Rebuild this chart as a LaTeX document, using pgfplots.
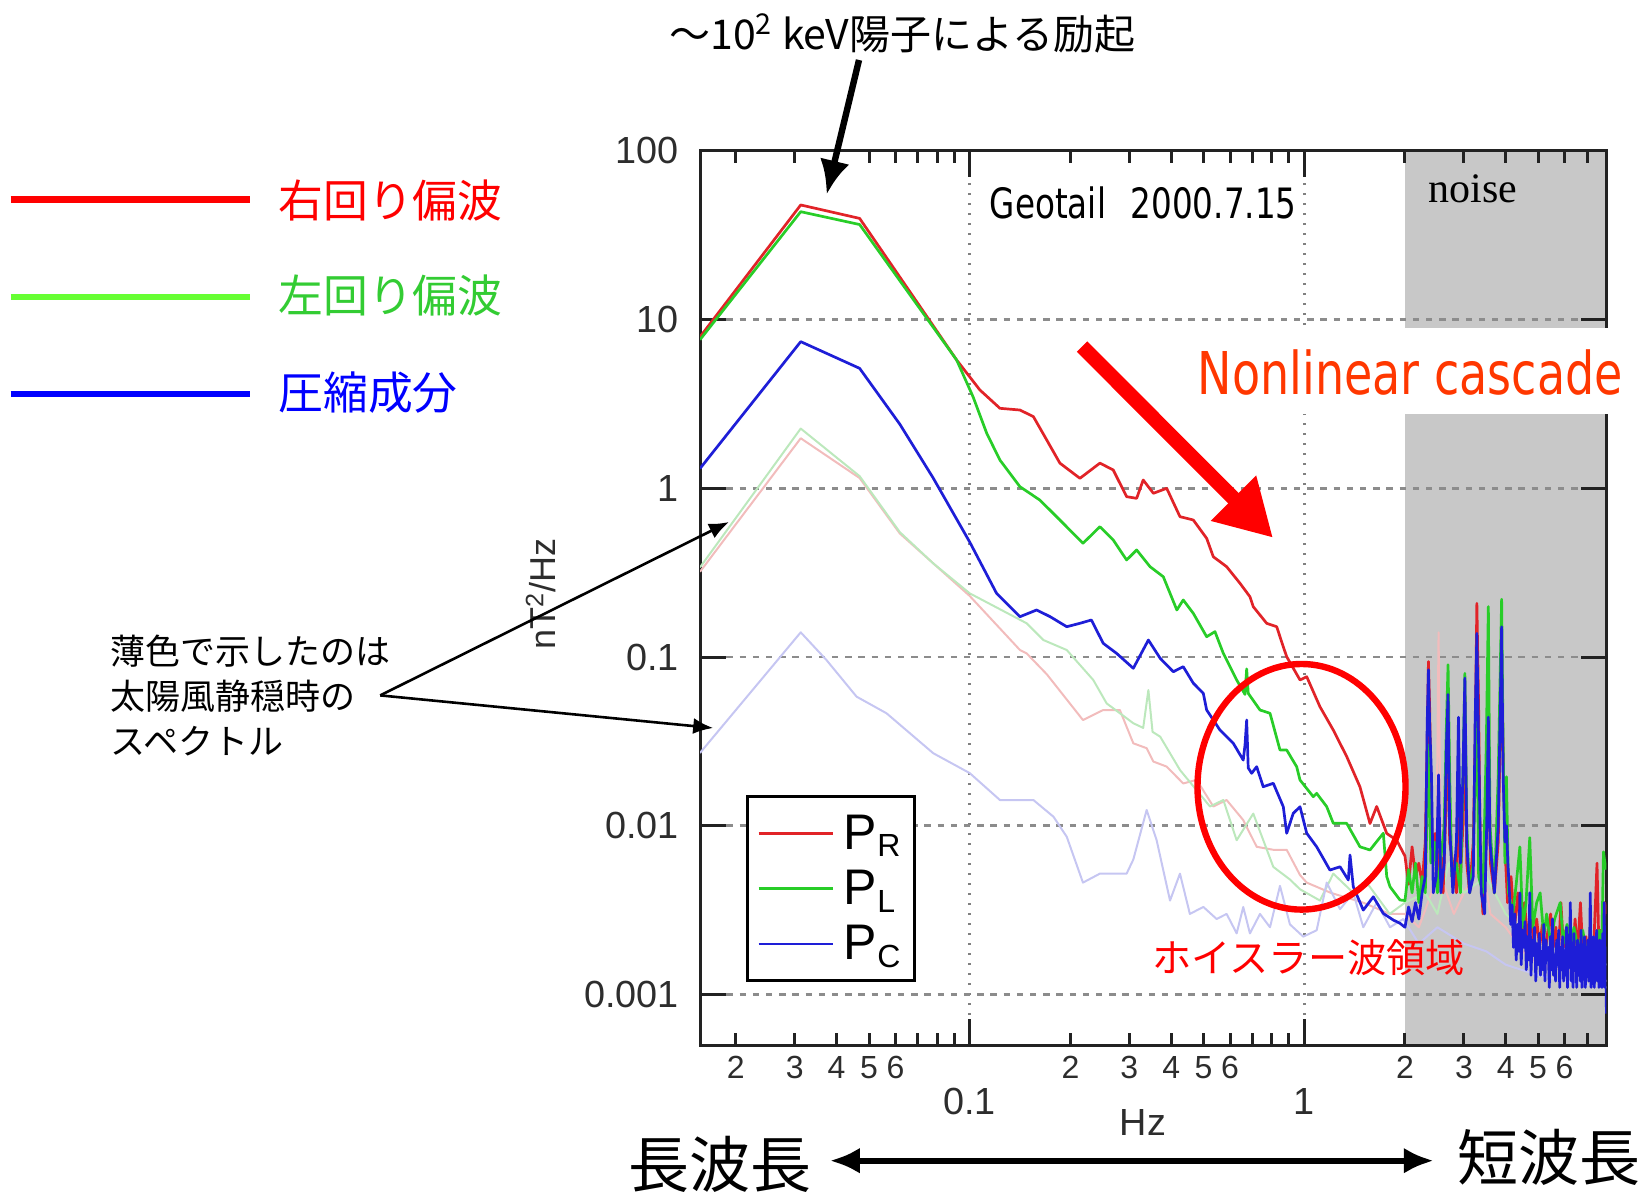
\documentclass[border=0pt]{standalone}
\usepackage{fontspec}
\usepackage{pgfplots}
\pgfplotsset{compat=1.18}
\usetikzlibrary{arrows.meta}
\setmainfont{Liberation Sans}
\newfontfamily\cjk{Noto Sans CJK JP}
\newfontfamily\tah[FakeStretch=0.78]{DejaVu Sans}
\newfontfamily\serif{Liberation Serif}

\definecolor{prc}{RGB}{225,35,40}
\definecolor{plc}{RGB}{40,205,40}
\definecolor{pcc}{RGB}{30,30,215}
\definecolor{prq}{RGB}{242,188,188}
\definecolor{plq}{RGB}{188,232,188}
\definecolor{pcq}{RGB}{198,198,242}
\definecolor{noisegray}{RGB}{200,200,200}
\definecolor{axc}{RGB}{34,34,34}
\definecolor{tickc}{RGB}{45,45,45}
\definecolor{keyred}{RGB}{255,0,0}
\definecolor{keygreen}{RGB}{102,255,51}
\definecolor{keygreentext}{RGB}{51,204,51}
\definecolor{keyblue}{RGB}{0,0,255}
\definecolor{cascade}{RGB}{255,55,0}

\newcommand{\sub}[1]{\raisebox{-0.3ex}{\fontsize{16}{16}\selectfont #1}}

\begin{document}
\begin{tikzpicture}
\path (0,0) rectangle (823.5pt,596.5pt);

\begin{axis}[
  set layers,
  at={(350pt,73.9pt)}, anchor=south west,
  scale only axis, width=453.2pt, height=447.15pt,
  xmode=log, ymode=log,
  xmin=0.015625, xmax=8, ymin=0.0005, ymax=100,
  ytick={0.001,0.01,0.1,1,10,100},
  yticklabels={0.001,0.01,0.1,1,10,100},
  yminorticks=false,
  xtick={0.1,1}, xticklabels={0.1,1},
  minor xtick={0.02,0.03,0.04,0.05,0.06,0.07,0.08,0.09,0.2,0.3,0.4,0.5,0.6,0.7,0.8,0.9,2,3,4,5,6,7},
  extra x ticks={0.02,0.03,0.04,0.05,0.06,0.2,0.3,0.4,0.5,0.6,2,3,4,5,6},
  extra x tick labels={2,3,4,5,6,2,3,4,5,6,2,3,4,5,6},
  extra x tick style={grid=none, tick style={draw=none},
    xticklabel style={yshift=16pt, font=\fontsize{16}{18}\selectfont}},
  xmajorgrids, ymajorgrids,
  major x grid style={draw=black!50, line width=1.3pt, dash pattern=on 1.3pt off 3.7pt},
  major y grid style={draw=black!45, line width=1.4pt, dash pattern=on 3.2pt off 3.4pt},
  axis line style={line width=1.5pt, color=axc},
  tick style={line width=1.5pt, color=axc},
  major tick length=13pt, minor tick length=6pt,
  tick label style={font=\fontsize{18.9}{20}\selectfont, text=tickc},
  xticklabel style={yshift=-18pt},
  yticklabel style={xshift=-7pt},
  xlabel={Hz}, ylabel={nT\textsuperscript{2}/Hz},
  every axis x label/.style={at={(axis description cs:0.4888,-0.0859)}, anchor=center,
    font=\fontsize{18.9}{20}\selectfont, text=tickc},
  every axis y label/.style={at={(axis description cs:-0.1754,0.505)}, rotate=90, anchor=center,
    font=\fontsize{18}{19}\selectfont, text=tickc},
  legend style={at={(0.0505,0.2796)}, anchor=north west, draw=black, line width=1.5pt,
    fill=white, inner xsep=5pt, inner ysep=7pt, row sep=5pt,
    font=\fontsize{25}{27}\selectfont,
    /tikz/every odd column/.append style={column sep=3pt},
    /tikz/every even column/.append style={column sep=8pt}},
  legend cell align=left,
  legend image code/.code={\draw[#1] (0pt,0pt) -- (37pt,0pt);},
  every axis plot/.append style={line join=round},
]

% instrument noise band above 2 Hz
\addplot[fill=noisegray, draw=none, forget plot, on layer=axis background]
  coordinates {(2,0.0005) (8,0.0005) (8,100) (2,100)} -- cycle;

% quiet solar wind spectra (pale)
\addplot[prq, line width=1pt, forget plot] coordinates {
(0.015625,0.32)(0.03125,1.98)(0.046875,1.15)(0.0618,0.54)(0.1,0.23)(0.1413,0.11)(0.148,0.105)
(0.170,0.079)(0.218,0.0423)(0.2506,0.0485)(0.281,0.0485)(0.3083,0.0308)(0.338,0.0288)(0.354,0.024)
(0.388,0.0224)(0.4347,0.0178)(0.4768,0.0187)(0.5346,0.013)(0.586,0.0142)(0.657,0.0108)(0.7206,0.0075)
(0.808,0.0072)(0.886,0.0072)(0.971,0.0051)(1.017,0.0046)(1.2,0.004)(1.5,0.0035)(1.8,0.003)(2.0,0.003)
(2.2,0.0025)(2.4,0.004)(2.48,0.006)(2.52,0.14)(2.56,0.005)(2.8,0.003)(3.0,0.004)(3.4,0.006)(3.6,0.003)
(4.0,0.0025)(4.5,0.0018)(5,0.0015)(6,0.0014)(7,0.0013)(8,0.0012)};
\addplot[plq, line width=1pt, forget plot] coordinates {
(0.015625,0.34)(0.03125,2.26)(0.046875,1.18)(0.0618,0.55)(0.0778,0.359)(0.1,0.2384)(0.148,0.1584)
(0.166,0.1261)(0.195,0.110)(0.234,0.0731)(0.2566,0.0531)(0.3083,0.0405)(0.33,0.038)(0.342,0.0637)
(0.352,0.036)(0.371,0.0337)(0.425,0.0214)(0.5226,0.013)(0.5728,0.0142)(0.628,0.0082)(0.704,0.0118)
(0.808,0.0057)(0.906,0.0048)(0.971,0.0042)(1.114,0.0036)(1.221,0.0052)(1.401,0.004)(1.537,0.0046)
(1.8,0.003)(2.0,0.0035)(2.3,0.004)(2.5,0.003)(2.7,0.006)(3.0,0.004)(3.5,0.005)(4.0,0.003)(5,0.002)
(6,0.0018)(7,0.0017)(8,0.0015)};
\addplot[pcq, line width=1pt, forget plot] coordinates {
(0.015625,0.027)(0.03125,0.14)(0.0373,0.096)(0.0459,0.0582)(0.0564,0.0464)(0.0778,0.0269)(0.1,0.0205)
(0.1231,0.0142)(0.155,0.0142)(0.178,0.0113)(0.195,0.0086)(0.218,0.0046)(0.245,0.0052)(0.2944,0.0052)
(0.3083,0.0063)(0.338,0.0124)(0.362,0.0082)(0.397,0.0036)(0.425,0.0052)(0.455,0.003)(0.4992,0.0033)
(0.547,0.0028)(0.586,0.003)(0.628,0.0023)(0.657,0.0033)(0.688,0.0023)(0.7374,0.003)(0.790,0.0025)
(0.846,0.0044)(0.906,0.0026)(0.993,0.0022)(1.089,0.0024)(1.167,0.0046)(1.279,0.0032)(1.401,0.004)
(1.501,0.0025)(1.646,0.0035)(1.804,0.0025)(1.977,0.0028)(2.2,0.002)(2.5,0.0025)(3.0,0.002)
(3.5,0.0018)(4,0.0015)(5,0.0013)(6,0.0012)(8,0.0011)};

% P_R
\addplot[prc, line width=1.35pt] coordinates {
(0.015625,7.9)(0.03125,47.8)(0.046875,39.8)(0.0914,5.76)(0.1072,3.83)(0.1231,2.98)(0.1413,2.91)
(0.155,2.66)(0.170,1.93)(0.186,1.41)(0.2135,1.146)(0.245,1.41)(0.2685,1.284)(0.2944,0.892)
(0.3155,0.872)(0.330,1.12)(0.354,0.934)(0.388,1.0)(0.425,0.679)(0.4658,0.649)(0.5108,0.505)
(0.5346,0.393)(0.586,0.343)(0.6425,0.2734)(0.688,0.2277)(0.704,0.1987)(0.772,0.1584)(0.827,0.1512)
(0.8655,0.115)(0.886,0.1004)(0.971,0.0731)(1.017,0.0764)(1.114,0.0507)(1.221,0.0369)(1.339,0.0257)
(1.467,0.017)(1.572,0.0103)(1.646,0.013)(1.764,0.009)(1.889,0.0082)(2.00,0.0066)
(2.05,0.0045)(2.10,0.0075)(2.15,0.005)(2.20,0.006)(2.25,0.0045)(2.30,0.008)(2.33,0.03)(2.35,0.094)
(2.37,0.05)(2.39,0.018)(2.42,0.006)(2.46,0.009)(2.50,0.005)(2.55,0.008)(2.60,0.004)(2.65,0.012)
(2.69,0.044)(2.72,0.008)(2.78,0.006)(2.85,0.004)(2.89,0.02)(2.93,0.005)(2.98,0.01)(3.02,0.06)
(3.06,0.006)(3.12,0.004)(3.20,0.008)(3.24,0.03)(3.28,0.208)(3.32,0.05)(3.36,0.006)(3.42,0.003)
(3.50,0.008)(3.55,0.03)(3.60,0.006)(3.70,0.004)(3.80,0.008)(3.89,0.10)(3.94,0.02)(4.00,0.006)
(4.05,0.0035)(4.15,0.005)(4.25,0.0025)(4.35,0.004)(4.45,0.002)(4.55,0.0035)(4.65,0.0022)(4.75,0.003)
(4.85,0.002)(4.95,0.0028)(5.05,0.0019)(5.15,0.0026)(5.25,0.0018)(5.35,0.0024)(5.45,0.003)(5.55,0.0019)
(5.65,0.0025)(5.75,0.0017)(5.85,0.0035)(5.95,0.0019)(6.05,0.0024)(6.15,0.0016)(6.25,0.0022)
(6.35,0.0018)(6.45,0.0028)(6.55,0.0017)(6.69,0.0035)(6.80,0.0018)(6.95,0.0022)(7.05,0.0016)
(7.15,0.0024)(7.25,0.0017)(7.35,0.0022)(7.50,0.006)(7.60,0.0018)(7.70,0.0024)(7.80,0.0016)
(7.90,0.0035)(8.00,0.003)};
\addlegendentry{P\sub{R}}

% P_L
\addplot[plc, line width=1.35pt] coordinates {
(0.015625,7.6)(0.03125,43.6)(0.046875,36.6)(0.0914,5.76)(0.1023,3.49)(0.1124,2.12)(0.1231,1.47)
(0.1413,1.022)(0.162,0.852)(0.186,0.649)(0.218,0.472)(0.245,0.592)(0.2685,0.494)(0.2944,0.376)
(0.3155,0.431)(0.346,0.343)(0.379,0.299)(0.416,0.190)(0.4347,0.2178)(0.4658,0.1816)(0.5108,0.1319)
(0.5408,0.1413)(0.5728,0.1051)(0.628,0.0731)(0.665,0.06)(0.6727,0.085)(0.680,0.0609)(0.7374,0.0485)
(0.790,0.0464)(0.846,0.0281)(0.886,0.0281)(0.949,0.02237)(0.971,0.01866)(1.064,0.01485)
(1.089,0.01556)(1.167,0.01296)(1.221,0.01033)(1.339,0.01033)(1.467,0.0075)(1.572,0.00718)
(1.723,0.00902)(1.764,0.005)(1.804,0.00435)(1.932,0.00363)(2.00,0.0036)
(2.05,0.0055)(2.10,0.004)(2.15,0.006)(2.20,0.0035)(2.25,0.005)(2.30,0.004)(2.35,0.03)(2.39,0.006)
(2.45,0.008)(2.50,0.004)(2.55,0.006)(2.62,0.01)(2.66,0.04)(2.69,0.090)(2.72,0.02)(2.76,0.005)
(2.85,0.006)(2.93,0.004)(2.98,0.02)(3.02,0.080)(3.06,0.01)(3.12,0.004)(3.20,0.006)(3.28,0.06)
(3.32,0.005)(3.42,0.004)(3.50,0.03)(3.55,0.199)(3.59,0.01)(3.70,0.004)(3.80,0.02)(3.89,0.22)
(3.93,0.03)(3.98,0.006)(4.02,0.0195)(4.08,0.004)(4.20,0.003)(4.30,0.0045)(4.41,0.0075)(4.50,0.0025)
(4.60,0.0035)(4.72,0.0085)(4.82,0.0025)(4.95,0.0035)(5.07,0.004)(5.20,0.0022)(5.30,0.003)
(5.45,0.002)(5.60,0.0028)(5.82,0.0035)(5.95,0.002)(6.10,0.0026)(6.25,0.0019)(6.40,0.0025)
(6.60,0.0018)(6.80,0.0024)(7.00,0.0017)(7.20,0.0022)(7.40,0.0018)(7.60,0.0024)(7.75,0.0019)
(7.84,0.007)(7.92,0.006)(8.00,0.0055)};
\addlegendentry{P\sub{L}}

% P_C
\addplot[pcc, line width=1.35pt] coordinates {
(0.015625,1.31)(0.03125,7.4)(0.046875,5.14)(0.0618,2.4)(0.0778,1.15)(0.1,0.48)(0.1203,0.2384)
(0.1413,0.1733)(0.1585,0.190)(0.174,0.1733)(0.195,0.1512)(0.2135,0.1584)(0.231,0.1657)(0.2506,0.1206)
(0.2748,0.1051)(0.3083,0.0857)(0.342,0.1261)(0.371,0.0982)(0.406,0.0818)(0.4347,0.0876)(0.4658,0.07)
(0.4992,0.0609)(0.5108,0.0485)(0.5598,0.0369)(0.6135,0.0308)(0.657,0.0245)(0.665,0.03)(0.6727,0.0423)
(0.680,0.022)(0.6963,0.02045)(0.7206,0.02237)(0.754,0.01702)(0.808,0.01784)(0.8655,0.01296)
(0.886,0.00902)(0.927,0.01184)(0.971,0.01296)(1.017,0.00902)(1.089,0.0075)(1.193,0.00546)
(1.279,0.00571)(1.354,0.00477)(1.370,0.0067)(1.401,0.00435)(1.501,0.00316)(1.608,0.00379)
(1.723,0.00302)(1.845,0.00276)(1.932,0.00264)(2.00,0.0025)
(2.05,0.0033)(2.10,0.0027)(2.15,0.0035)(2.20,0.0028)(2.25,0.004)(2.30,0.005)(2.33,0.04)(2.35,0.084)
(2.37,0.04)(2.40,0.02)(2.43,0.004)(2.48,0.005)(2.52,0.02)(2.56,0.004)(2.62,0.006)(2.66,0.03)
(2.69,0.06)(2.72,0.01)(2.78,0.004)(2.85,0.008)(2.89,0.044)(2.93,0.006)(2.98,0.02)(3.02,0.075)
(3.06,0.008)(3.12,0.004)(3.20,0.005)(3.24,0.04)(3.28,0.138)(3.32,0.03)(3.38,0.004)(3.46,0.003)
(3.51,0.01)(3.55,0.044)(3.59,0.008)(3.70,0.004)(3.80,0.01)(3.89,0.151)(3.93,0.02)(3.98,0.008)
(4.02,0.01)(4.06,0.006)(4.10,0.0042)(4.14,0.0026)(4.18,0.0034)(4.22,0.0019)(4.26,0.003)(4.30,0.0016)
(4.34,0.0026)(4.38,0.0018)(4.41,0.004)(4.45,0.0015)(4.49,0.0024)(4.53,0.0019)(4.57,0.0027)
(4.61,0.0014)(4.65,0.0022)(4.69,0.0016)(4.72,0.004)(4.76,0.0013)(4.80,0.0021)(4.84,0.0017)
(4.88,0.0025)(4.92,0.0012)(4.96,0.002)(5.00,0.0015)(5.04,0.0023)(5.08,0.0013)(5.12,0.0018)
(5.16,0.0014)(5.20,0.0026)(5.24,0.0012)(5.28,0.0021)(5.32,0.0016)(5.36,0.0019)(5.40,0.0011)
(5.44,0.0022)(5.48,0.0014)(5.52,0.0028)(5.56,0.0013)(5.60,0.0017)(5.64,0.0012)(5.68,0.0021)
(5.72,0.0015)(5.76,0.0024)(5.80,0.0011)(5.84,0.0019)(5.88,0.0014)(5.92,0.0022)(5.96,0.0012)
(6.00,0.0018)(6.04,0.0013)(6.08,0.0025)(6.12,0.0011)(6.16,0.002)(6.20,0.0015)(6.24,0.0035)
(6.28,0.0012)(6.32,0.0017)(6.36,0.0011)(6.40,0.0023)(6.44,0.0014)(6.48,0.0019)(6.52,0.0011)
(6.56,0.0021)(6.60,0.0015)(6.64,0.0018)(6.68,0.0012)(6.72,0.0024)(6.76,0.0011)(6.80,0.0016)
(6.84,0.0013)(6.88,0.0022)(6.92,0.0011)(6.96,0.0018)(7.00,0.0014)(7.04,0.0021)(7.08,0.0012)
(7.12,0.0017)(7.16,0.004)(7.20,0.0011)(7.24,0.0019)(7.28,0.0013)(7.32,0.0022)(7.36,0.0011)
(7.40,0.0017)(7.44,0.0014)(7.48,0.0024)(7.52,0.0012)(7.56,0.0018)(7.60,0.0011)(7.64,0.0021)
(7.68,0.0013)(7.72,0.0016)(7.76,0.0011)(7.80,0.0023)(7.84,0.0012)(7.88,0.0035)(7.92,0.0011)
(7.96,0.0019)(8.00,0.00077)};
\addlegendentry{P\sub{C}}
\end{axis}

% annotations, placed on a 1647 x 1193 grid measured from the top left
\begin{scope}[x=0.5pt, y=-0.5pt, shift={(0pt,596.5pt)}]
  % excitation note and arrow
  \node[anchor=west, inner sep=0] at (669,33.6)
    {\cjk\fontsize{20.5}{22}\selectfont ～10\textsuperscript{2} keV陽子による励起};
  \draw[line width=3.2pt, -{Latex[length=17pt,width=15pt]}] (859,60) -- (826.7,194.3);

  % colour key on the left
  \draw[line width=3.2pt, keyred]   (10.5,199.6) -- (250,199.6);
  \draw[line width=3.2pt, keygreen] (10.5,297.3) -- (250,297.3);
  \draw[line width=3.2pt, keyblue]  (10.5,393.9) -- (250,393.9);
  \node[anchor=west, inner sep=0, text=keyred] at (278,200.6)
    {\cjk\fontsize{22.4}{24}\selectfont 右回り偏波};
  \node[anchor=west, inner sep=0, text=keygreentext] at (278,295.5)
    {\cjk\fontsize{22.4}{24}\selectfont 左回り偏波};
  \node[anchor=west, inner sep=0, text=keyblue] at (278,392.5)
    {\cjk\fontsize{22.4}{24}\selectfont 圧縮成分};

  % labels inside the frame
  \node[anchor=base west, inner sep=0] at (989.5,218.5) {\tah\fontsize{20.9}{22}\selectfont Geotail};
  \node[anchor=base west, inner sep=0] at (1130.3,218.5) {\tah\fontsize{20.9}{22}\selectfont 2000.7.15};
  \node[anchor=base west, inner sep=0] at (1428.5,202.7) {\serif\fontsize{21}{22}\selectfont noise};

  % cascade label over a white band
  \fill[white] (1187,327.7) rectangle (1628,413.9);
  \node[anchor=base west, inner sep=0, text=cascade] at (1197.5,395)
    {\tah\fontsize{29.5}{31}\selectfont Nonlinear cascade};
  \draw[keyred, line width=7.35pt, -{Triangle[length=28pt,width=30pt]}] (1082,346.6) -- (1273,537.8);

  % whistler range
  \draw[keyred, line width=3.2pt] (1301.5,786.8) ellipse [x radius=52pt, y radius=61.4pt];
  \node[anchor=west, inner sep=0, text=keyred] at (1152,958)
    {\cjk\fontsize{19.6}{21}\selectfont ホイスラー波領域};

  % note on the pale curves
  \node[anchor=west, inner sep=0] at (110.3,651.3) {\cjk\fontsize{17.5}{19}\selectfont 薄色で示したのは};
  \node[anchor=west, inner sep=0] at (110.3,696.4) {\cjk\fontsize{17.5}{19}\selectfont 太陽風静穏時の};
  \node[anchor=west, inner sep=0] at (110.3,741.6) {\cjk\fontsize{17.5}{19}\selectfont スペクトル};
  \draw[line width=1.3pt, -{Latex[length=10pt,width=8pt]}] (380.2,695.4) -- (729,522);
  \draw[line width=1.3pt, -{Latex[length=10pt,width=8pt]}] (380.2,695.4) -- (713.2,728);

  % wavelength direction
  \node[anchor=west, inner sep=0] at (628,1164) {\cjk\fontsize{30.5}{32}\selectfont 長波長};
  \node[anchor=west, inner sep=0] at (1457,1157.6) {\cjk\fontsize{30.5}{32}\selectfont 短波長};
  \draw[line width=3.2pt, {Latex[length=15pt,width=13pt]}-{Latex[length=15pt,width=13pt]}]
    (829.8,1160.7) -- (1433.8,1160.7);
\end{scope}
\end{tikzpicture}
\end{document}
